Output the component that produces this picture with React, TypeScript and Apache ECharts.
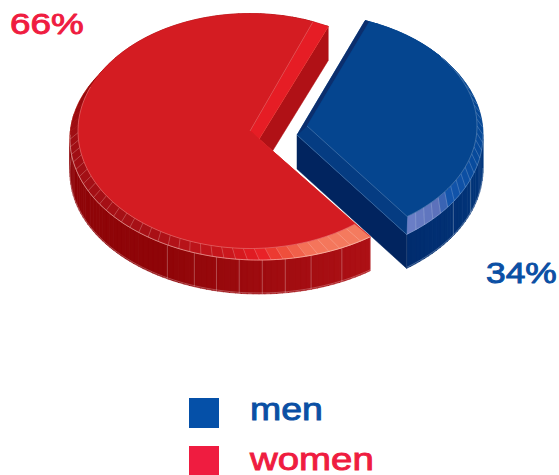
import React, { useEffect, useRef } from "react";
import * as echarts from "echarts";

const categories = ["men", "women"];
const shares = [34, 66];
const shareLabels = ["34%", "66%"];

const START_DEG = 21.5;
const CELL_DEG = 3.6;
const DEPTH = 34;
const HAIRLINE = "rgba(255,255,255,0.34)";

type Ellipse = { cx: number; cy: number; rx: number; ry: number };

// Each slice is an elliptical top face inset into a slightly larger rim.
const SLICE_STYLES = [
  {
    top: { cx: 307, cy: 126, rx: 170, ry: 112 },
    rim: { cx: 297, cy: 135, rx: 186, ry: 123 },
    topStartShift: 0,
    face: "#05458f",
    radialWall: "#01245f",
    backStrip: "#0b2e6d",
    frontStrip: "#053c82",
    wallLast: 90,
    cellStops: [[144, "#6c80c8"], [130, "#5a70ba"], [125, "#1456ad"], [105, "#074a9c"], [60, "#05458f"], [22, "#05458f"]],
    wallStops: [[144, "#012c6e"], [90, "#03387e"]],
    wallLines: [143.9, 122.8, 111],
  },
  {
    top: { cx: 250, cy: 131, rx: 172, ry: 117.5 },
    rim: { cx: 259, cy: 139, rx: 189, ry: 121 },
    topStartShift: -1.5,
    face: "#d41c22",
    radialWall: "#b01116",
    backStrip: "#e61d25",
    frontStrip: "#d41c22",
    wallLast: 282,
    cellStops: [[144, "#f47c60"], [163, "#f4745a"], [172, "#ee4a38"], [179, "#e81c24"], [190, "#c8161c"], [215, "#a81016"], [270, "#a00e14"], [300, "#940608"]],
    wallStops: [[144, "#ad1015"], [175, "#a00c10"], [209, "#8f0508"], [282, "#8f0508"]],
    wallLines: [143.9, 154, 164, 172, 179, 186, 193, 200, 209],
  },
];

function onEllipse(e: Ellipse, deg: number, drop = 0): number[] {
  const r = (deg * Math.PI) / 180;
  return [e.cx + e.rx * Math.sin(r), e.cy - e.ry * Math.cos(r) + drop];
}

function arcPoints(e: Ellipse, from: number, to: number, drop = 0): number[][] {
  const pts: number[][] = [];
  const n = Math.max(2, Math.ceil(Math.abs(to - from)));
  for (let i = 0; i <= n; i++) pts.push(onEllipse(e, from + ((to - from) * i) / n, drop));
  return pts;
}

function hex(c: string): number[] {
  return [1, 3, 5].map((i) => parseInt(c.slice(i, i + 2), 16));
}

function colorAt(stops: any[], deg: number): string {
  const sorted = [...stops].sort((a, b) => a[0] - b[0]);
  if (deg <= sorted[0][0]) return sorted[0][1];
  for (let i = 1; i < sorted.length; i++) {
    if (deg <= sorted[i][0]) {
      const t = (deg - sorted[i - 1][0]) / (sorted[i][0] - sorted[i - 1][0]);
      const a = hex(sorted[i - 1][1]);
      const b = hex(sorted[i][1]);
      return `rgb(${a.map((v, k) => Math.round(v + (b[k] - v) * t)).join(",")})`;
    }
  }
  return sorted[sorted.length - 1][1];
}

const poly = (points: number[][], fill: string, stroke?: string, lineWidth = 0.5) => ({
  type: "polygon",
  shape: { points },
  style: { fill, stroke: stroke ?? fill, lineWidth },
  silent: true,
});

const hairline = (points: number[][], opacity = HAIRLINE, lineWidth = 0.7) => ({
  type: "polyline",
  shape: { points },
  style: { fill: "none", stroke: opacity, lineWidth },
  silent: true,
});

function renderSlice(params: any, api: any) {
  const i = params.dataIndex;
  const s = SLICE_STYLES[i];
  const before = shares.slice(0, i).reduce((a, b) => a + b, 0);
  const total = shares.reduce((a, b) => a + b, 0);
  const span = (api.value(0) / total) * 360;
  // Men run clockwise from the start bearing; the larger slice follows it.
  const a0 = START_DEG + (before / total) * 360;
  const a1 = a0 + span;
  const { top, rim } = s;
  const rimApex = [rim.cx, rim.cy];
  const topApex = [top.cx, top.cy];
  const topAngle = (a: number) => {
    const startTop = a0 + s.topStartShift;
    return startTop + ((a - a0) * (a1 - startTop)) / (a1 - a0);
  };
  const children: any[] = [];

  // Outer wall, split into facets along the front of the disc.
  const wallFrom = i === 0 ? s.wallLast : a0;
  const wallTo = i === 0 ? a1 : s.wallLast;
  for (let a = wallFrom; a < wallTo; a += CELL_DEG / 2) {
    const b = Math.min(a + CELL_DEG / 2 + 0.2, wallTo);
    const arcTop = arcPoints(rim, a, b);
    const arcBottom = arcPoints(rim, b, a, DEPTH);
    children.push(poly([...arcTop, ...arcBottom], colorAt(s.wallStops, a)));
  }
  s.wallLines.forEach((deg) => {
    children.push(hairline([onEllipse(rim, deg), onEllipse(rim, deg, DEPTH)], HAIRLINE, 0.8));
  });
  children.push(hairline(arcPoints(rim, wallFrom, wallTo, DEPTH - 1), HAIRLINE, 0.8));

  // Flat wall along the straight cut that stays in view.
  const cutEnd = onEllipse(rim, a1);
  children.push(
    poly([rimApex, cutEnd, [cutEnd[0], cutEnd[1] + DEPTH], [rimApex[0], rimApex[1] + DEPTH]], s.radialWall)
  );

  // Bevel ring between rim and top face, one cell per percent.
  children.push(poly([rimApex, ...arcPoints(rim, a0, a1)], colorAt(s.cellStops, a0)));
  for (let a = a0; a < a1; a += CELL_DEG) {
    const b = Math.min(a + CELL_DEG, a1);
    const mid = (a + b) / 2;
    const outer = arcPoints(rim, a, b);
    const inner = arcPoints(top, topAngle(b), topAngle(a));
    children.push(poly([...outer, ...inner], colorAt(s.cellStops, mid)));
  }
  for (let a = a0; a <= a1 + 0.01; a += CELL_DEG) {
    const showRed = i === 1 && a < 270;
    const showBlue = i === 0 && a > 60;
    if (showRed || showBlue) {
      children.push(hairline([onEllipse(top, topAngle(a)), onEllipse(rim, a)], HAIRLINE, 0.6));
    }
  }

  // Straight bevel strips along both cuts.
  children.push(poly([topApex, rimApex, onEllipse(rim, a1), onEllipse(top, a1)], i === 0 ? s.frontStrip : s.backStrip));
  children.push(poly([topApex, rimApex, onEllipse(rim, a0), onEllipse(top, topAngle(a0))], i === 0 ? s.backStrip : s.frontStrip));

  // Top face and its pale outline.
  const faceArc = arcPoints(top, topAngle(a0), a1);
  children.push(poly([topApex, ...faceArc], s.face));
  children.push(hairline(i === 0 ? arcPoints(top, 52, a1) : arcPoints(top, topAngle(a0), 292), HAIRLINE, 0.7));
  children.push(hairline([onEllipse(top, a1), topApex], HAIRLINE, 0.6));
  if (i === 0) {
    children.push(hairline([onEllipse(rim, a1), rimApex], HAIRLINE, 0.6));
    children.push(hairline(arcPoints(rim, 90, a1), HAIRLINE, 0.7));
  } else {
    children.push(hairline(arcPoints(rim, a0, 272), "rgba(255,255,255,0.5)", 0.8));
  }
  return { type: "group", children };
}

// Wide-set label: baseline is given, the glyph box is placed from its top.
const widen = (text: string, x: number, baseline: number, size: number, fill: string, scaleX: number) => ({
  type: "text",
  x,
  y: baseline - size * 0.9,
  scaleX,
  silent: true,
  style: {
    text,
    x: 0,
    y: 0,
    fill,
    stroke: fill,
    lineWidth: 0.9,
    fontFamily: "Liberation Sans",
    fontSize: size,
    verticalAlign: "top",
    lineHeight: size,
  },
});

const MEN_BLUE = "#0a4fa4";
const WOMEN_RED = "#ef1c40";

export default function App() {
  const ref = useRef<HTMLDivElement>(null);

  useEffect(() => {
    document.body.style.margin = "0";
    const chart = echarts.init(ref.current!, undefined, { renderer: "svg" });
    chart.setOption({
      animation: false,
      backgroundColor: "#ffffff",
      series: [
        {
          type: "custom",
          coordinateSystem: "none",
          silent: true,
          renderItem: renderSlice,
          data: shares.map((value, k) => ({ value, name: categories[k] })),
        },
      ],
      graphic: [
        widen(shareLabels[1], 10, 35.5, 29, WOMEN_RED, 1.27),
        widen(shareLabels[0], 486, 284.5, 29, MEN_BLUE, 1.22),
        { type: "rect", shape: { x: 189, y: 398, width: 30, height: 30 }, style: { fill: "#0550a8" }, silent: true },
        { type: "rect", shape: { x: 189, y: 446, width: 30, height: 29 }, style: { fill: WOMEN_RED }, silent: true },
        widen(categories[0], 250, 421, 32, MEN_BLUE, 1.17),
        widen(categories[1], 250, 471, 32, WOMEN_RED, 1.2),
      ],
    });
    return () => chart.dispose();
  }, []);

  return <div ref={ref} style={{ width: 559, height: 475 }} />;
}
